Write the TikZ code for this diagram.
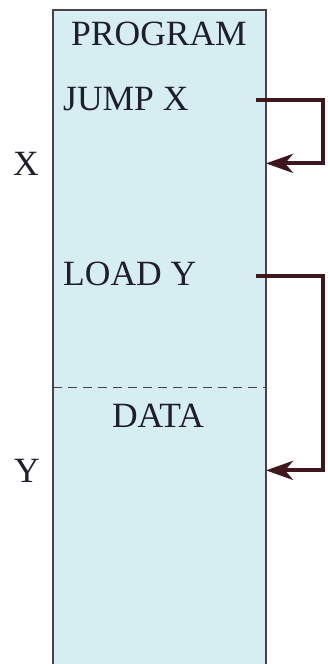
\documentclass[tikz,border=0pt]{standalone}
\usepackage{fontspec}
\setmainfont{Liberation Serif}
\usetikzlibrary{arrows.meta, calc}
\definecolor{memfill}{RGB}{214,238,241}
\definecolor{memedge}{RGB}{75,65,70}
\definecolor{jumpline}{RGB}{62,22,30}
\definecolor{memtext}{RGB}{30,30,45}

\begin{document}
\begin{tikzpicture}[x=1pt, y=-1pt, text=memtext, font=\fontsize{35.5}{40}\selectfont]
            \useasboundingbox (0,0) rectangle (327,664);
            \coordinate (TL) at (53, 10);
            \coordinate (TR) at (266, 10);
            \coordinate (BL) at (53, 664);
            \coordinate (BR) at (266, 664);

            % memory block, open at the bottom
            \fill[memfill] (BL) -- (TL) -- (TR) -- (BR) -- cycle;
            \draw[memedge, line width=1.5pt] (BL) -- (TL) -- (TR) -- (BR);
            \draw[memedge, dashed, dash pattern=on 9pt off 6pt, line width=1pt] (53, 387) -- (266, 387);

            \node[anchor=base] (prog) at (159, 45) {PROGRAM};
            \node[anchor=base west, inner sep=0pt] (jump) at (63, 110) {JUMP X};
            \node[anchor=base west, inner sep=0pt] (load) at (63, 285) {LOAD Y};
            \node[anchor=base] (data) at (158, 427) {DATA};
            \node[anchor=base] (labX) at (26, 175) {X};
            \node[anchor=base] (labY) at (27, 482) {Y};

            \coordinate (jumpout) at (256, 100);
            \coordinate (loadout) at (256, 276);
            \coordinate (xin) at (labX.center -| TR);
            \coordinate (yin) at (labY.center -| TR);

            \draw[jumpline, line width=4pt, -{Stealth[length=27pt, width=19pt, inset=8pt]}]
                (jumpout) -- ++(67, 0) |- (xin);
            \draw[jumpline, line width=4pt, -{Stealth[length=27pt, width=19pt, inset=8pt]}]
                (loadout) -- ++(67, 0) |- (yin);
        \end{tikzpicture}
\end{document}
